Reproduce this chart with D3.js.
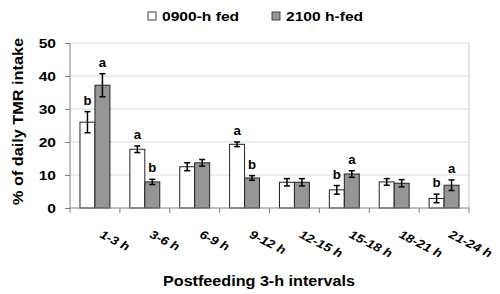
<!DOCTYPE html>
<html>
<head>
<meta charset="utf-8">
<script src="https://cdn.jsdelivr.net/npm/d3@7"></script>
<style>
  body { margin: 0; background: #fff; }
  text { font-family: "Liberation Sans", Arial, sans-serif; font-weight: bold; fill: #000; }
</style>
</head>
<body>
<div id="chart"></div>
<script>
// categories and values
let intervals = ["1-3 h", "3-6 h", "6-9 h", "9-12 h", "12-15 h", "15-18 h", "18-21 h", "21-24 h"];
let seriesNames = ["0900-h fed", "2100 h-fed"];
let fed0900 = [26.0, 17.8, 12.5, 19.3, 7.8, 5.5, 7.9, 2.9];
let fed0900Err = [3.2, 1.0, 1.2, 0.7, 1.1, 1.3, 1.0, 1.3];
let fed2100 = [37.2, 7.9, 13.7, 9.1, 7.8, 10.3, 7.5, 6.9];
let fed2100Err = [3.5, 0.8, 1.0, 0.7, 1.1, 1.0, 1.1, 1.6];
let letters0900 = ["b", "a", "", "a", "", "b", "", "b"];
let letters2100 = ["a", "b", "", "b", "", "a", "", "a"];
let yTicks = [0, 10, 20, 30, 40, 50];

let colors = ["#ffffff", "#969696"];
// the source figure renders its text noticeably wide
let wide = 1.2;

let margin = {top: 43, right: 31, bottom: 86, left: 70};
let width = 500 - margin.left - margin.right;
let height = 294 - margin.top - margin.bottom;

let svg = d3.select("#chart").append("svg")
	.attr("width", 500)
	.attr("height", 294)
	.append("g")
	.attr("transform", "translate(" + margin.left + "," + margin.top + ")");

let x = d3.scaleBand()
	.domain(intervals)
	.range([0, width])
	.paddingInner(0.4)
	.paddingOuter(0.2);

let band = d3.scaleBand()
	.domain(intervals)
	.range([0, width]);

let xSub = d3.scaleBand()
	.domain([0, 1])
	.range([0, x.bandwidth()]);

let y = d3.scaleLinear()
	.domain([0, 50])
	.range([height, 0]);

// gridlines
svg.selectAll(".grid")
	.data(yTicks.slice(1))
	.enter().append("line")
	.attr("class", "grid")
	.attr("x1", 0)
	.attr("x2", width)
	.attr("y1", d => y(d))
	.attr("y2", d => y(d))
	.attr("stroke", "#d9d9d9")
	.attr("stroke-width", 1);

// right border
svg.append("line")
	.attr("x1", width).attr("x2", width)
	.attr("y1", 0).attr("y2", height)
	.attr("stroke", "#c8c8c8");

let rows = intervals.map((k, i) => ({
	key: k,
	vals: [
		{s: 0, v: fed0900[i], e: fed0900Err[i], l: letters0900[i]},
		{s: 1, v: fed2100[i], e: fed2100Err[i], l: letters2100[i]}
	]
}));

let groups = svg.selectAll(".group")
	.data(rows)
	.enter().append("g")
	.attr("class", "group")
	.attr("transform", d => "translate(" + x(d.key) + ",0)");

let items = groups.selectAll(".item")
	.data(d => d.vals)
	.enter().append("g")
	.attr("class", "item");

items.append("rect")
	.attr("x", d => xSub(d.s))
	.attr("y", d => y(d.v))
	.attr("width", xSub.bandwidth())
	.attr("height", d => y(0) - y(d.v))
	.attr("fill", d => colors[d.s])
	.attr("stroke", "#222")
	.attr("stroke-width", 1);

// error bars
let cx = d => xSub(d.s) + xSub.bandwidth() / 2;
items.append("line")
	.attr("x1", cx).attr("x2", cx)
	.attr("y1", d => y(d.v + d.e))
	.attr("y2", d => y(d.v - d.e))
	.attr("stroke", "#000").attr("stroke-width", 1.5);
items.append("line")
	.attr("x1", d => cx(d) - 3).attr("x2", d => cx(d) + 3)
	.attr("y1", d => y(d.v + d.e)).attr("y2", d => y(d.v + d.e))
	.attr("stroke", "#000").attr("stroke-width", 1.5);
items.append("line")
	.attr("x1", d => cx(d) - 3).attr("x2", d => cx(d) + 3)
	.attr("y1", d => y(d.v - d.e)).attr("y2", d => y(d.v - d.e))
	.attr("stroke", "#000").attr("stroke-width", 1.5);

// significance letters
items.append("text")
	.attr("transform", d => "translate(" + cx(d) + "," + (y(d.v + d.e) - 7) + ") scale(1.1,1)")
	.attr("text-anchor", "middle")
	.style("font-size", "12px")
	.text(d => d.l);

// y axis
let yAxis = svg.append("g")
	.call(d3.axisLeft(y).tickValues(yTicks).tickSize(5));
yAxis.select(".domain").attr("stroke", "#808080").attr("d", "M0," + height + "V0");
yAxis.selectAll(".tick line").attr("stroke", "#808080");
yAxis.selectAll("text")
	.attr("x", -14 / wide)
	.attr("transform", "scale(" + wide + ",1)")
	.style("font-size", "13px")
	.style("font-family", "'Liberation Sans', Arial, sans-serif")
	.style("font-weight", "bold")
	.attr("dy", "0.36em");

// x axis with ticks on category boundaries
let xAxisG = svg.append("g")
	.attr("transform", "translate(0," + height + ")");
xAxisG.append("line")
	.attr("x1", 0).attr("x2", width)
	.attr("stroke", "#808080");
xAxisG.selectAll(".bt")
	.data(intervals.concat(["end"]))
	.enter().append("line")
	.attr("x1", (d, i) => i * band.step())
	.attr("x2", (d, i) => i * band.step())
	.attr("y1", 0).attr("y2", 5)
	.attr("stroke", "#808080");

xAxisG.selectAll(".xl")
	.data(intervals)
	.enter().append("text")
	.attr("class", "xl")
	.attr("transform", d => "translate(" + (band(d) + band.bandwidth() / 2 + 4) + ",29) rotate(27) scale(1.12,1)")
	.style("font-size", "12px")
	.style("font-style", "italic")
	.text(d => d);

// axis titles
svg.append("text")
	.attr("x", 189)
	.attr("y", height + 78)
	.attr("text-anchor", "middle")
	.attr("textLength", 192)
	.attr("lengthAdjust", "spacingAndGlyphs")
	.style("font-size", "14px")
	.text("Postfeeding 3-h intervals");

svg.append("text")
	.attr("transform", "translate(-47," + (121.5 - margin.top) + ") rotate(-90)")
	.attr("text-anchor", "middle")
	.attr("textLength", 167)
	.attr("lengthAdjust", "spacingAndGlyphs")
	.style("font-size", "14px")
	.text("% of daily TMR intake");

// legend
let legendX = [148, 272];
let legend = svg.selectAll(".legend")
	.data(seriesNames)
	.enter().append("g")
	.attr("class", "legend")
	.attr("transform", (d, i) => "translate(" + (legendX[i] - margin.left) + "," + (12 - margin.top) + ")");
legend.append("rect")
	.attr("width", 8).attr("height", 8)
	.attr("fill", (d, i) => colors[i])
	.attr("stroke", "#444");
legend.append("text")
	.attr("transform", "translate(14,8.5) scale(" + wide + ",1)")
	.style("font-size", "13px")
	.text(d => d);
</script>
</body>
</html>
